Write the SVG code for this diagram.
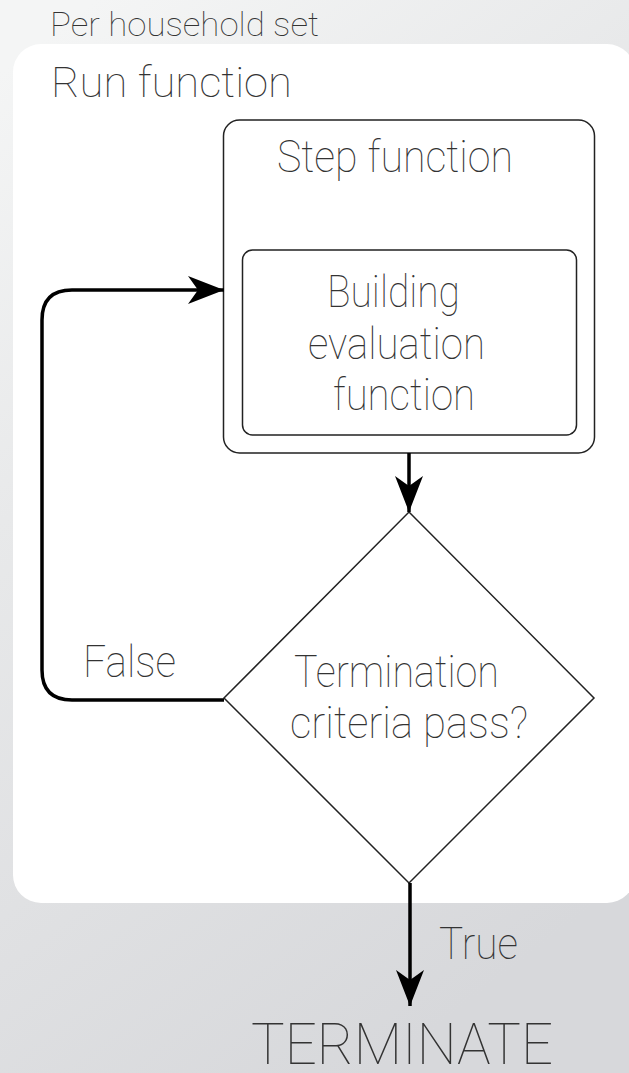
<svg xmlns="http://www.w3.org/2000/svg" width="629" height="1073" viewBox="0 0 629 1073">
  <defs>
    <linearGradient id="bg" x1="0.15" y1="0" x2="0.6" y2="1">
      <stop offset="0" stop-color="#f4f5f5"/>
      <stop offset="0.35" stop-color="#e8e9ea"/>
      <stop offset="1" stop-color="#d7d8db"/>
    </linearGradient>
    <marker id="head" viewBox="0 0 36 28" markerWidth="36" markerHeight="28" refX="36" refY="14" orient="auto" markerUnits="userSpaceOnUse">
      <path d="M0,0 L36,14 L0,28 L10,14 Z" fill="#000"/>
    </marker>
  </defs>
  <style>
    .t { font-family: Roboto, "Liberation Sans", sans-serif; font-weight: 100; fill: #333; }
    .box { fill: #fff; stroke: #222; stroke-width: 1.5; }
    .edge { fill: none; stroke: #000; stroke-width: 3.5; }
  </style>

  <!-- backdrop and outer container -->
  <rect x="0" y="0" width="629" height="1073" fill="url(#bg)"/>
  <text class="t" x="50" y="36" font-size="33" textLength="269" lengthAdjust="spacingAndGlyphs">Per household set</text>

  <g id="run-function">
    <rect x="13" y="44" width="622" height="859" rx="28" ry="28" fill="#fff"/>
    <text class="t" x="51" y="97" font-size="43" textLength="241" lengthAdjust="spacingAndGlyphs">Run function</text>
  </g>

  <g id="step-function">
    <rect class="box" x="223.5" y="120" width="371" height="333" rx="16"/>
    <text class="t" x="277" y="172" font-size="45" textLength="236" lengthAdjust="spacingAndGlyphs">Step function</text>
  </g>

  <g id="building-evaluation">
    <rect class="box" x="242.5" y="250" width="334" height="185" rx="10"/>
    <text class="t" font-size="45">
      <tspan x="327" y="307" textLength="133" lengthAdjust="spacingAndGlyphs">Building</tspan>
      <tspan x="308" y="359" textLength="177" lengthAdjust="spacingAndGlyphs">evaluation</tspan>
      <tspan x="333" y="410" textLength="142" lengthAdjust="spacingAndGlyphs">function</tspan>
    </text>
  </g>

  <g id="termination-check">
    <polygon class="box" points="409,512 594,698 409,883 224,698"/>
    <text class="t" font-size="44">
      <tspan x="294" y="687" textLength="205" lengthAdjust="spacingAndGlyphs">Termination</tspan>
      <tspan x="290" y="738" textLength="238" lengthAdjust="spacingAndGlyphs">criteria pass?</tspan>
    </text>
  </g>

  <g id="terminate">
    <text class="t" x="251" y="1064" font-size="58" textLength="302" lengthAdjust="spacingAndGlyphs">TERMINATE</text>
  </g>

  <g id="connectors">
    <path class="edge" d="M409,453 L409,512" marker-end="url(#head)"/>
    <path class="edge" d="M224,700 L72,700 Q42,700 42,670 L42,320 Q42,290 72,290 L224,290" marker-end="url(#head)"/>
    <path class="edge" d="M410,883 L410,1006" marker-end="url(#head)"/>
    <text class="t" x="83" y="677" font-size="45" fill="#555" textLength="93" lengthAdjust="spacingAndGlyphs">False</text>
    <text class="t" x="439" y="959" font-size="45" textLength="79" lengthAdjust="spacingAndGlyphs">True</text>
  </g>
</svg>
